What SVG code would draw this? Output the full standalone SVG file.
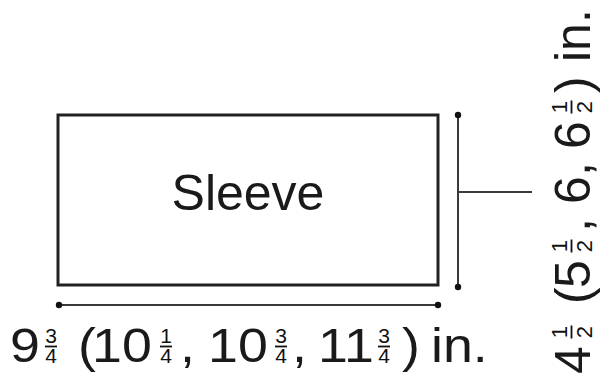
<svg xmlns="http://www.w3.org/2000/svg" width="613" height="375" viewBox="0 0 613 375">
<style>
.big{font-family:"Liberation Sans",Arial,sans-serif;font-size:50px;fill:#1a1a1a}
.bt{font-family:"Liberation Sans",Arial,sans-serif;font-size:48px;fill:#1a1a1a}
.fr{font-family:"Liberation Sans",Arial,sans-serif;font-size:21px;fill:#111;text-anchor:middle}
.fr2{font-family:"Liberation Sans",Arial,sans-serif;font-size:22px;fill:#111;text-anchor:middle}
.m{text-anchor:middle}
.dim{stroke:#3a3a3a;stroke-width:2;fill:none}
.bar{stroke:#111;stroke-width:1.8}
.dot{fill:#111}
</style>
<rect width="613" height="375" fill="#fff"/>
<g id="sleeve">
<rect x="58" y="115" width="380" height="170" fill="#fff" stroke="#222" stroke-width="3"/>
<text class="big m" x="248" y="210">Sleeve</text>
</g>
<g id="connectors">
<line class="dim" x1="59" y1="305" x2="438" y2="305"/>
<circle class="dot" cx="59" cy="305" r="3.2"/>
<circle class="dot" cx="438" cy="305" r="3.2"/>
<line class="dim" x1="458" y1="115" x2="458" y2="287"/>
<circle class="dot" cx="458" cy="115" r="3.2"/>
<circle class="dot" cx="458" cy="287" r="3.2"/>
<line class="dim" x1="458" y1="192" x2="532" y2="192"/>
</g>
<g id="width-label">
<text class="bt" transform="translate(10,362) scale(1.12,1)">9</text>
<text class="bt" transform="translate(78,362) scale(1.12,1)">(</text>
<text class="bt" transform="translate(92,362) scale(1.12,1)">10</text>
<text class="bt" transform="translate(180,362) scale(1.12,1)">,</text>
<text class="bt" transform="translate(208,362) scale(1.12,1)">10</text>
<text class="bt" transform="translate(292,362) scale(1.12,1)">,</text>
<text class="bt" transform="translate(318,362) scale(1.12,1)">11</text>
<text class="bt" transform="translate(402,362) scale(1.12,1)">)</text>
<text class="bt" transform="translate(431,362) scale(1.12,1)">in.</text>
<text class="fr"><tspan x="51" y="343">3</tspan><tspan x="51" y="362.5">4</tspan></text>
<line class="bar" x1="45" y1="346.5" x2="57" y2="346.5"/>
<text class="fr"><tspan x="166" y="343">1</tspan><tspan x="166" y="362.5">4</tspan></text>
<line class="bar" x1="160" y1="346.5" x2="172" y2="346.5"/>
<text class="fr"><tspan x="281" y="343">3</tspan><tspan x="281" y="362.5">4</tspan></text>
<line class="bar" x1="275" y1="346.5" x2="287" y2="346.5"/>
<text class="fr"><tspan x="384" y="343">3</tspan><tspan x="384" y="362.5">4</tspan></text>
<line class="bar" x1="378" y1="346.5" x2="390" y2="346.5"/>
</g>
<g id="height-label" transform="translate(590,375) rotate(-90)">
<text class="big m" x="15" y="0">4</text>
<text class="big" x="71" y="0">(</text>
<text class="big m" x="101" y="0">5</text>
<text class="big" x="143" y="0">,</text>
<text class="big m" x="185" y="0">6</text>
<text class="big" x="199" y="0">,</text>
<text class="big m" x="240" y="0">6</text>
<text class="big" x="282" y="0">)</text>
<text class="big" x="313" y="0">in.</text>
<text class="fr2"><tspan x="43" y="-23">1</tspan><tspan x="43" y="2">2</tspan></text>
<line class="bar" x1="36.5" y1="-18.5" x2="49.5" y2="-18.5"/>
<text class="fr2"><tspan x="129" y="-23">1</tspan><tspan x="129" y="2">2</tspan></text>
<line class="bar" x1="122.5" y1="-18.5" x2="135.5" y2="-18.5"/>
<text class="fr2"><tspan x="268" y="-23">1</tspan><tspan x="268" y="2">2</tspan></text>
<line class="bar" x1="261.5" y1="-18.5" x2="274.5" y2="-18.5"/>
</g>
</svg>
